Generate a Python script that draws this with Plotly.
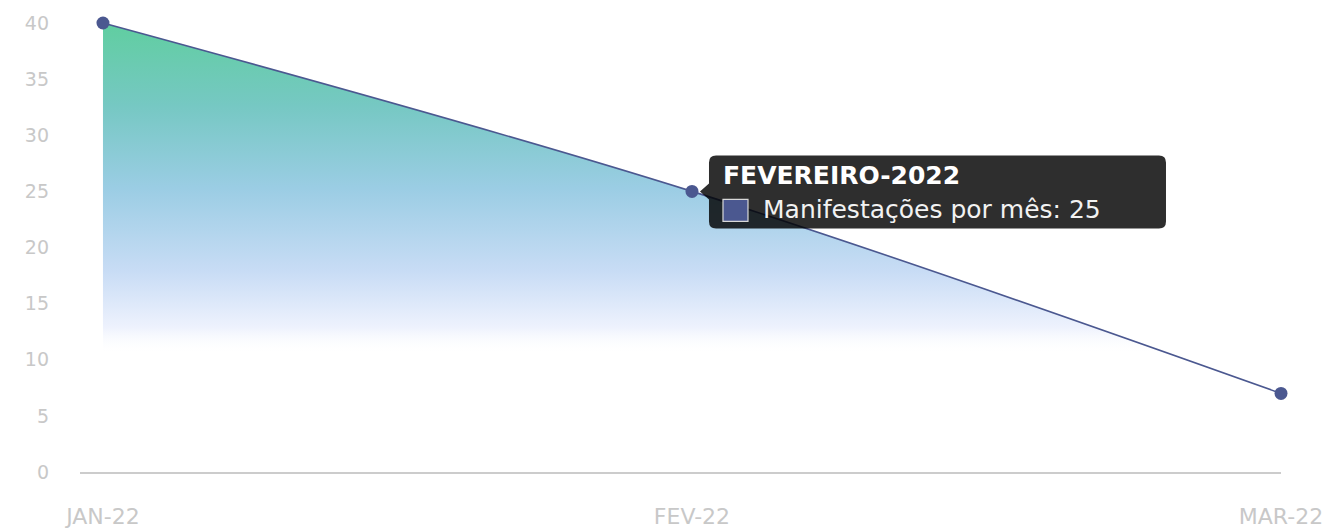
import plotly.graph_objects as go

# Monthly counts
months = ["JAN-22", "FEV-22", "MAR-22"]
month_full = ["JANEIRO-2022", "FEVEREIRO-2022", "MARÇO-2022"]
counts = [40, 25, 7]
series_name = "Manifestações por mês"
y_ticks = [0, 5, 10, 15, 20, 25, 30, 35, 40]

x_pos = list(range(len(months)))
highlight = 1  # month whose tooltip is shown

line_color = "#4b5890"
label_color = "#c8c8c8"

fig = go.Figure()

fig.add_trace(go.Scatter(
    x=x_pos,
    y=counts,
    mode="lines+markers",
    name=series_name,
    line=dict(color=line_color, width=1.6, shape="spline", smoothing=1.0),
    marker=dict(color=line_color, size=13),
    fill="tozeroy",
    fillgradient=dict(
        type="vertical",
        start=10.5,
        stop=40,
        colorscale=[
            [0.0, "rgba(255,255,255,0)"],
            [0.08, "rgba(238,242,253,1)"],
            [0.25, "rgba(200,220,245,1)"],
            [0.5, "rgba(155,205,228,1)"],
            [0.75, "rgba(118,200,195,1)"],
            [1.0, "rgba(96,206,160,1)"],
        ],
    ),
    cliponaxis=False,
    hoverinfo="skip",
))

# Tooltip box anchored to the highlighted point (pixel offsets, y up)
bx0, bx1, by0, by1, r = 17, 474, -37, 36, 7
tip_x, tip_half = 8, 8
tooltip_path = (
    f"M {bx0 + r},{by1} L {bx1 - r},{by1} Q {bx1},{by1} {bx1},{by1 - r} "
    f"L {bx1},{by0 + r} Q {bx1},{by0} {bx1 - r},{by0} "
    f"L {bx0 + r},{by0} Q {bx0},{by0} {bx0},{by0 + r} "
    f"L {bx0},{-tip_half} L {tip_x},0 L {bx0},{tip_half} "
    f"L {bx0},{by1 - r} Q {bx0},{by1} {bx0 + r},{by1} Z"
)
fig.add_shape(
    type="path", path=tooltip_path,
    xref="x", yref="y", xsizemode="pixel", ysizemode="pixel",
    xanchor=highlight, yanchor=counts[highlight],
    fillcolor="rgba(0,0,0,0.82)", line=dict(width=0), layer="above",
)
# Colour swatch in the tooltip
fig.add_shape(
    type="rect",
    xref="x", yref="y", xsizemode="pixel", ysizemode="pixel",
    xanchor=highlight, yanchor=counts[highlight],
    x0=31, x1=56, y0=-8, y1=-30,
    fillcolor=line_color, line=dict(color="#d8d8d8", width=1.2), layer="above",
)
fig.add_annotation(
    x=highlight, y=counts[highlight], xref="x", yref="y",
    text=f"<b>{month_full[highlight]}</b>", showarrow=False,
    xanchor="left", yanchor="middle", xshift=29, yshift=16,
    font=dict(family="DejaVu Sans", size=25, color="#ffffff"),
)
fig.add_annotation(
    x=highlight, y=counts[highlight], xref="x", yref="y",
    text=f"{series_name}: {counts[highlight]}", showarrow=False,
    xanchor="left", yanchor="middle", xshift=69, yshift=-18,
    font=dict(family="DejaVu Sans", size=25, color="#f2f2f2"),
)

fig.update_layout(
    width=1340, height=532,
    margin=dict(l=80, r=59, t=23, b=60, autoexpand=False),
    paper_bgcolor="white", plot_bgcolor="white",
    showlegend=False, hovermode=False,
    xaxis=dict(
        range=[-0.039, 2.0],
        tickvals=x_pos, ticktext=months,
        showgrid=False, zeroline=False, automargin=False,
        showline=True, linecolor="#cccccc", linewidth=1.5,
        ticks="", ticklabelstandoff=24,
        tickfont=dict(family="DejaVu Sans", size=22, color=label_color),
    ),
    yaxis=dict(
        range=[0, 40],
        tickvals=y_ticks,
        showgrid=False, zeroline=False, showline=False, automargin=False,
        ticks="", ticklabelstandoff=30,
        tickfont=dict(family="DejaVu Sans", size=19, color=label_color),
    ),
)

fig.write_html("out.html")
